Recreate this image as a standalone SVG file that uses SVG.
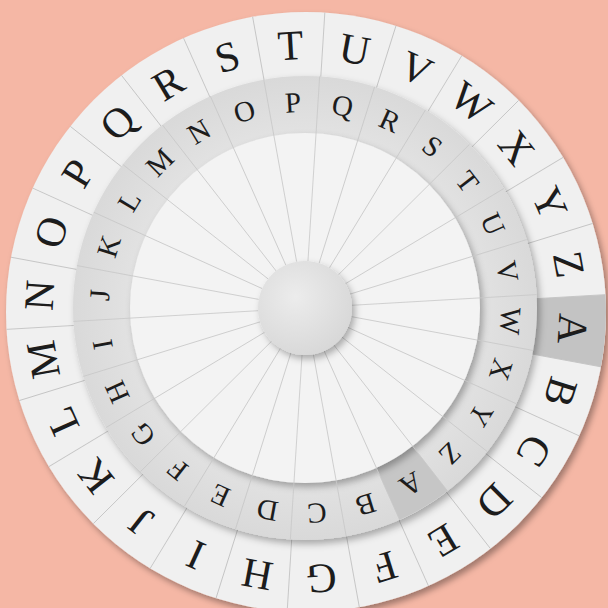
<svg xmlns="http://www.w3.org/2000/svg" xmlns:xlink="http://www.w3.org/1999/xlink" width="608" height="608" viewBox="0 0 608 608">
<style>
.o{font-family:"Liberation Serif","DejaVu Serif",serif;font-size:42px;fill:#1c1c1c;text-anchor:middle}
.i{font-family:"Liberation Serif","DejaVu Serif",serif;font-size:29px;fill:#1c1c1c;text-anchor:middle}
.dl{stroke:#c4c4c4;stroke-width:0.9}
.il{stroke:#c8c8c8;stroke-width:0.8}
</style>
<defs>
<filter id="sh" x="-10%" y="-10%" width="125%" height="125%"><feDropShadow dx="3" dy="4" stdDeviation="3" flood-color="#000" flood-opacity="0.35"/></filter>
<filter id="sh2" x="-10%" y="-10%" width="125%" height="125%"><feDropShadow dx="3" dy="4" stdDeviation="3.5" flood-color="#000" flood-opacity="0.3"/></filter>
<radialGradient id="hubg" cx="40%" cy="38%" r="65%"><stop offset="0" stop-color="#ececec"/><stop offset="1" stop-color="#d8d8d8"/></radialGradient>
<radialGradient id="ringg" cx="50%" cy="50%" r="50%"><stop offset="0.75" stop-color="#e2e2e2"/><stop offset="1" stop-color="#d9d9d9"/></radialGradient>
<line id="ol" x1="306" y1="312" x2="606" y2="312"/>
<line id="inl" x1="352" y1="308" x2="537" y2="308"/>
</defs>
<rect width="608" height="608" fill="#f5b7a5"/>
<g id="outer-disc">
<circle cx="306" cy="312" r="300" fill="#f0f0f0" filter="url(#sh)"/>
<path d="M505.66 300.42 L605.5 294.63 A300 300 0 0 1 600.95 366.83 L502.63 348.55 A200 200 0 0 0 505.66 300.42 Z" fill="#c3c3c3"/>
<g class="dl">
<use xlink:href="#ol" transform="rotate(-3.32 306 312)"/>
<use xlink:href="#ol" transform="rotate(10.53 306 312)"/>
<use xlink:href="#ol" transform="rotate(24.37 306 312)"/>
<use xlink:href="#ol" transform="rotate(38.22 306 312)"/>
<use xlink:href="#ol" transform="rotate(52.06 306 312)"/>
<use xlink:href="#ol" transform="rotate(65.91 306 312)"/>
<use xlink:href="#ol" transform="rotate(79.76 306 312)"/>
<use xlink:href="#ol" transform="rotate(93.60 306 312)"/>
<use xlink:href="#ol" transform="rotate(107.45 306 312)"/>
<use xlink:href="#ol" transform="rotate(121.29 306 312)"/>
<use xlink:href="#ol" transform="rotate(135.14 306 312)"/>
<use xlink:href="#ol" transform="rotate(148.99 306 312)"/>
<use xlink:href="#ol" transform="rotate(162.83 306 312)"/>
<use xlink:href="#ol" transform="rotate(176.68 306 312)"/>
<use xlink:href="#ol" transform="rotate(190.52 306 312)"/>
<use xlink:href="#ol" transform="rotate(204.37 306 312)"/>
<use xlink:href="#ol" transform="rotate(218.22 306 312)"/>
<use xlink:href="#ol" transform="rotate(232.06 306 312)"/>
<use xlink:href="#ol" transform="rotate(245.91 306 312)"/>
<use xlink:href="#ol" transform="rotate(259.75 306 312)"/>
<use xlink:href="#ol" transform="rotate(273.60 306 312)"/>
<use xlink:href="#ol" transform="rotate(287.45 306 312)"/>
<use xlink:href="#ol" transform="rotate(301.29 306 312)"/>
<use xlink:href="#ol" transform="rotate(315.14 306 312)"/>
<use xlink:href="#ol" transform="rotate(328.98 306 312)"/>
<use xlink:href="#ol" transform="rotate(342.83 306 312)"/>
</g>
<g id="outer-letters">
<text class="o" x="306" y="59" transform="rotate(93.6 306 312)">A</text>
<text class="o" x="306" y="59" transform="rotate(107.45 306 312)">B</text>
<text class="o" x="306" y="59" transform="rotate(121.29 306 312)">C</text>
<text class="o" x="306" y="59" transform="rotate(135.14 306 312)">D</text>
<text class="o" x="306" y="59" transform="rotate(148.98 306 312)">E</text>
<text class="o" x="306" y="59" transform="rotate(162.83 306 312)">F</text>
<text class="o" x="306" y="59" transform="rotate(176.68 306 312)">G</text>
<text class="o" x="306" y="59" transform="rotate(190.52 306 312)">H</text>
<text class="o" x="306" y="59" transform="rotate(204.37 306 312)">I</text>
<text class="o" x="306" y="59" transform="rotate(218.21 306 312)">J</text>
<text class="o" x="306" y="59" transform="rotate(232.06 306 312)">K</text>
<text class="o" x="306" y="59" transform="rotate(245.91 306 312)">L</text>
<text class="o" x="306" y="59" transform="rotate(259.75 306 312)">M</text>
<text class="o" x="306" y="59" transform="rotate(273.6 306 312)">N</text>
<text class="o" x="306" y="59" transform="rotate(287.44 306 312)">O</text>
<text class="o" x="306" y="59" transform="rotate(301.29 306 312)">P</text>
<text class="o" x="306" y="59" transform="rotate(315.14 306 312)">Q</text>
<text class="o" x="306" y="59" transform="rotate(328.98 306 312)">R</text>
<text class="o" x="306" y="59" transform="rotate(342.83 306 312)">S</text>
<text class="o" x="306" y="59" transform="rotate(356.67 306 312)">T</text>
<text class="o" x="306" y="59" transform="rotate(10.52 306 312)">U</text>
<text class="o" x="306" y="59" transform="rotate(24.37 306 312)">V</text>
<text class="o" x="306" y="59" transform="rotate(38.21 306 312)">W</text>
<text class="o" x="306" y="59" transform="rotate(52.06 306 312)">X</text>
<text class="o" x="306" y="59" transform="rotate(65.91 306 312)">Y</text>
<text class="o" x="306" y="59" transform="rotate(79.75 306 312)">Z</text>
</g>
</g>
<g id="inner-disc">
<circle cx="305" cy="308" r="232" fill="url(#ringg)" filter="url(#sh2)"/>
<path d="M412.52 446.08 L447.54 491.05 A232 232 0 0 1 399.61 519.84 L376.37 467.79 A175 175 0 0 0 412.52 446.08 Z" fill="#c6c6c6"/>
<circle cx="305" cy="308" r="175" fill="#f3f3f3" filter="url(#sh2)"/>
<g class="il">
<use xlink:href="#inl" transform="rotate(52.08 305 308)"/>
<use xlink:href="#inl" transform="rotate(65.93 305 308)"/>
<use xlink:href="#inl" transform="rotate(79.77 305 308)"/>
<use xlink:href="#inl" transform="rotate(93.62 305 308)"/>
<use xlink:href="#inl" transform="rotate(107.46 305 308)"/>
<use xlink:href="#inl" transform="rotate(121.31 305 308)"/>
<use xlink:href="#inl" transform="rotate(135.16 305 308)"/>
<use xlink:href="#inl" transform="rotate(149.0 305 308)"/>
<use xlink:href="#inl" transform="rotate(162.85 305 308)"/>
<use xlink:href="#inl" transform="rotate(176.69 305 308)"/>
<use xlink:href="#inl" transform="rotate(190.54 305 308)"/>
<use xlink:href="#inl" transform="rotate(204.39 305 308)"/>
<use xlink:href="#inl" transform="rotate(218.23 305 308)"/>
<use xlink:href="#inl" transform="rotate(232.08 305 308)"/>
<use xlink:href="#inl" transform="rotate(245.92 305 308)"/>
<use xlink:href="#inl" transform="rotate(259.77 305 308)"/>
<use xlink:href="#inl" transform="rotate(273.62 305 308)"/>
<use xlink:href="#inl" transform="rotate(287.46 305 308)"/>
<use xlink:href="#inl" transform="rotate(301.31 305 308)"/>
<use xlink:href="#inl" transform="rotate(315.15 305 308)"/>
<use xlink:href="#inl" transform="rotate(329.0 305 308)"/>
<use xlink:href="#inl" transform="rotate(342.85 305 308)"/>
<use xlink:href="#inl" transform="rotate(356.69 305 308)"/>
<use xlink:href="#inl" transform="rotate(10.54 305 308)"/>
<use xlink:href="#inl" transform="rotate(24.38 305 308)"/>
<use xlink:href="#inl" transform="rotate(38.23 305 308)"/>
</g>
<g id="inner-letters">
<text class="i" x="305" y="112" transform="rotate(149 305 308)">A</text>
<text class="i" x="305" y="112" transform="rotate(162.85 305 308)">B</text>
<text class="i" x="305" y="112" transform="rotate(176.69 305 308)">C</text>
<text class="i" x="305" y="112" transform="rotate(190.54 305 308)">D</text>
<text class="i" x="305" y="112" transform="rotate(204.38 305 308)">E</text>
<text class="i" x="305" y="112" transform="rotate(218.23 305 308)">F</text>
<text class="i" x="305" y="112" transform="rotate(232.08 305 308)">G</text>
<text class="i" x="305" y="112" transform="rotate(245.92 305 308)">H</text>
<text class="i" x="305" y="112" transform="rotate(259.77 305 308)">I</text>
<text class="i" x="305" y="112" transform="rotate(273.61 305 308)">J</text>
<text class="i" x="305" y="112" transform="rotate(287.46 305 308)">K</text>
<text class="i" x="305" y="112" transform="rotate(301.31 305 308)">L</text>
<text class="i" x="305" y="112" transform="rotate(315.15 305 308)">M</text>
<text class="i" x="305" y="112" transform="rotate(329 305 308)">N</text>
<text class="i" x="305" y="112" transform="rotate(342.85 305 308)">O</text>
<text class="i" x="305" y="112" transform="rotate(356.69 305 308)">P</text>
<text class="i" x="305" y="112" transform="rotate(10.54 305 308)">Q</text>
<text class="i" x="305" y="112" transform="rotate(24.38 305 308)">R</text>
<text class="i" x="305" y="112" transform="rotate(38.23 305 308)">S</text>
<text class="i" x="305" y="112" transform="rotate(52.08 305 308)">T</text>
<text class="i" x="305" y="112" transform="rotate(65.92 305 308)">U</text>
<text class="i" x="305" y="112" transform="rotate(79.77 305 308)">V</text>
<text class="i" x="305" y="112" transform="rotate(93.61 305 308)">W</text>
<text class="i" x="305" y="112" transform="rotate(107.46 305 308)">X</text>
<text class="i" x="305" y="112" transform="rotate(121.31 305 308)">Y</text>
<text class="i" x="305" y="112" transform="rotate(135.15 305 308)">Z</text>
</g>
</g>
<g id="hub">
<circle cx="305" cy="308" r="47" fill="url(#hubg)" filter="url(#sh2)"/>
</g>
</svg>
